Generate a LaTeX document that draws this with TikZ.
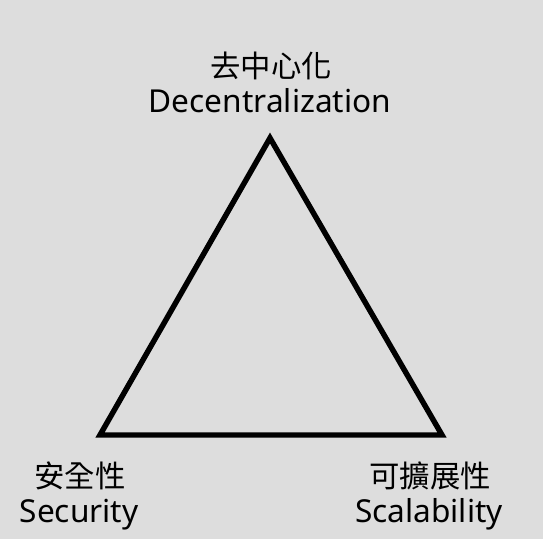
\documentclass[tikz,border=0pt]{standalone}
\usepackage{fontspec}
\setmainfont{Noto Sans}
\newfontfamily\cjk{Noto Sans CJK TC}
\definecolor{sfondo}{RGB}{221,221,221}
\begin{document}
\begin{tikzpicture}[x=0.02cm, y=-0.02cm]
    % Stili
    \tikzstyle{zh}=[anchor=base, inner sep=0pt, font=\cjk\fontsize{17.3}{17.3}\selectfont]
    \tikzstyle{en}=[anchor=base, inner sep=0pt, font=\fontsize{18}{18}\selectfont]
    \tikzstyle{lato}=[line width=3.1pt, line join=miter]

    % Sfondo
    \fill[sfondo] (0,0) rectangle (543,539);
    \useasboundingbox (0,0) rectangle (543,539);

    % Vertici del triangolo
    \coordinate (top) at (270,138);
    \coordinate (sx) at (100,435);
    \coordinate (dx) at (442,435);
    \draw[lato] (top) -- (sx) -- (dx) -- cycle;

    % Etichette
    \node[zh] (decZh) at (271,77) {去中心化};
    \node[en] (decEn) at (270,112) {Decentralization};
    \node[zh] (secZh) at (80,487) {安全性};
    \node[en] (secEn) at (79,522) {Security};
    \node[zh] (scaZh) at (430,487) {可擴展性};
    \node[en] (scaEn) at (429,522) {Scalability};
\end{tikzpicture}
\end{document}
